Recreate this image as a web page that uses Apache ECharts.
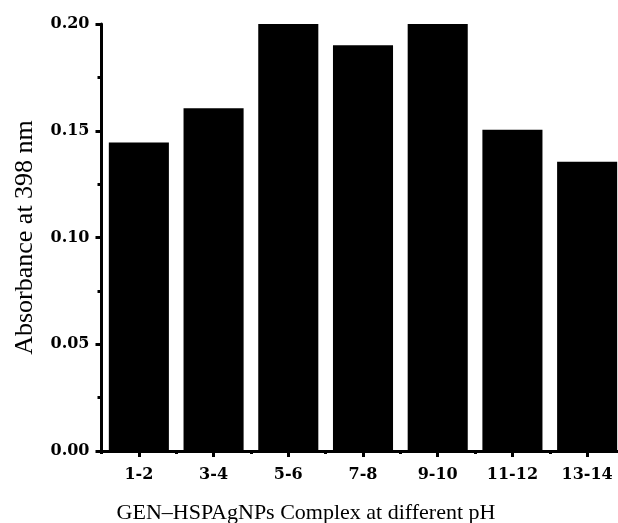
<!DOCTYPE html>
<html>
<head>
<meta charset="utf-8">
<script src="https://cdn.jsdelivr.net/npm/echarts@6/dist/echarts.min.js"></script>
<style>
html,body{margin:0;padding:0;background:#fff;}
#chart{width:618px;height:523px;}
</style>
</head>
<body>
<div id="chart"></div>
<script>
const categories = ['1-2', '3-4', '5-6', '7-8', '9-10', '11-12', '13-14'];
const absorbance = [0.1445, 0.1605, 0.200, 0.190, 0.200, 0.1505, 0.1355];
const xAxisTitle = 'GEN\u2013HSPAgNPs Complex at different pH';
const yAxisTitle = 'Absorbance at 398 nm';

const chart = echarts.init(document.getElementById('chart'), null, {renderer: 'canvas'});
const tickFont = {fontFamily: 'DejaVu Serif', fontWeight: 'bold', fontSize: 16, color: '#000'};
chart.setOption({
  animation: false,
  backgroundColor: '#fff',
  grid: {left: 101.5, top: 24, width: 523, height: 427, containLabel: false, outerBoundsMode: 'none'},
  xAxis: [{
    type: 'category',
    data: categories,
    name: xAxisTitle,
    nameLocation: 'middle',
    nameGap: 51,
    nameTextStyle: {fontFamily: 'Liberation Serif', fontSize: 22, color: '#000', padding: [0, 114, 0, 0]},
    axisLine: {lineStyle: {color: '#000', width: 3}},
    axisTick: {show: true, length: 3, lineStyle: {color: '#000', width: 3}},
    axisLabel: Object.assign({margin: 16}, tickFont),
    splitLine: {show: false}
  }, {
    type: 'category',
    data: categories,
    position: 'bottom',
    axisLine: {show: false},
    axisTick: {show: true, alignWithLabel: true, length: 6, lineStyle: {color: '#000', width: 3}},
    axisLabel: {show: false},
    splitLine: {show: false}
  }],
  yAxis: {
    type: 'value',
    min: 0, max: 0.2, interval: 0.05,
    name: yAxisTitle,
    nameLocation: 'middle',
    nameRotate: 90,
    nameGap: 63,
    nameTextStyle: {fontFamily: 'Liberation Serif', fontSize: 26, color: '#000'},
    axisLine: {show: true, lineStyle: {color: '#000', width: 3}},
    axisTick: {show: true, length: 6, lineStyle: {color: '#000', width: 3}},
    minorTick: {show: true, splitNumber: 2, length: 4, lineStyle: {color: '#000', width: 3}},
    axisLabel: Object.assign({margin: 12, formatter: v => v.toFixed(2)}, tickFont),
    splitLine: {show: false}
  },
  series: [{
    type: 'bar',
    data: absorbance,
    xAxisIndex: 0,
    barCategoryGap: '19.6%',
    itemStyle: {color: '#000'}
  }]
});
</script>
</body>
</html>
